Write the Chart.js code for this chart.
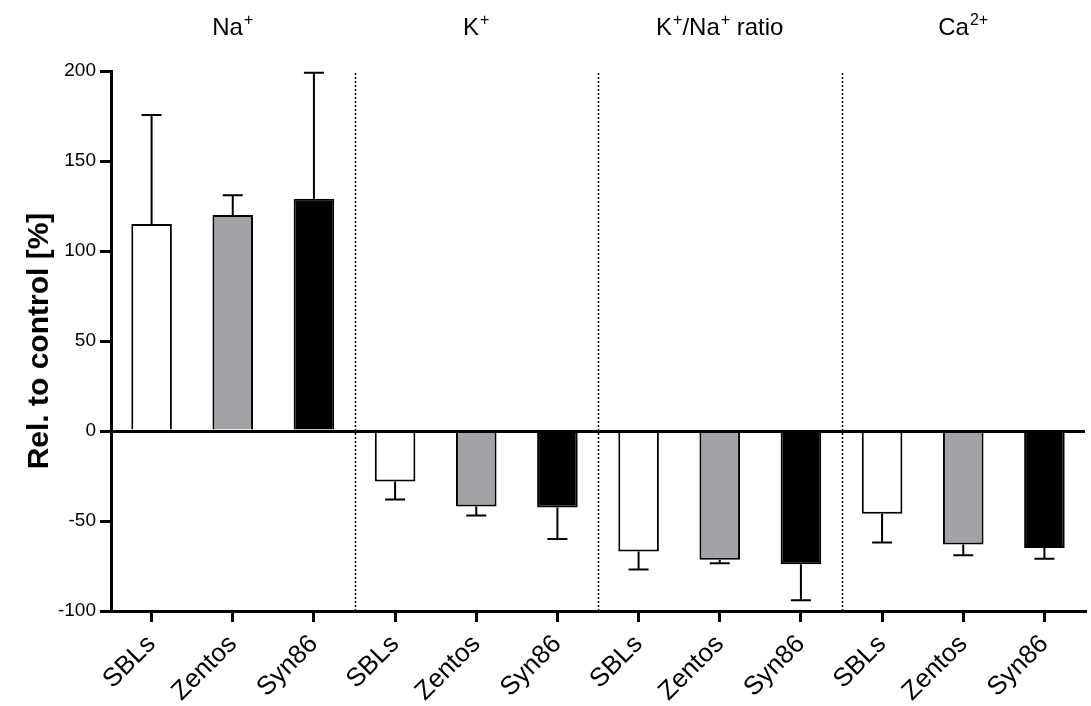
<!DOCTYPE html>
<html>
<head>
<meta charset="utf-8">
<script src="https://cdn.jsdelivr.net/npm/chart.js@4.4.1/dist/chart.umd.min.js"></script>
<style>
  html, body { margin: 0; padding: 0; background: #fff; }
  #wrap { width: 1091px; height: 706px; }
</style>
</head>
<body>
<div id="wrap"><canvas id="ionChart" width="1091" height="706"></canvas></div>
<script>
// ion groups, drawn on top; "sup" parts are superscripts
var groupLabels = [
    [['Na', false], ['+', true]],
    [['K', false], ['+', true]],
    [['K', false], ['+', true], ['/Na', false], ['+', true], [' ratio', false]],
    [['Ca', false], ['2+', true]]
]
var cultivars = ['SBLs', 'Zentos', 'Syn86']
var cultivarColors = ['#ffffff', '#a3a2a7', '#000000']

// means per cultivar, in group order (Na+, K+, K+/Na+, Ca2+)
var sblsMean   = [115, -28, -67, -46]
var zentosMean = [120, -42, -71.5, -63]
var syn86Mean  = [129, -42.5, -74, -65]
// error (SD), drawn only away from zero
var sblsErr    = [60.5, 10, 10, 16]
var zentosErr  = [11, 5, 2, 6]
var syn86Err   = [70, 17.5, 20, 6]

var yTicks = { min: -100, max: 200, step: 50 }

// flatten into one bar per category
var labels = [], values = [], errors = [], colors = []
for (var g = 0; g < groupLabels.length; g++) {
    var m = [sblsMean[g], zentosMean[g], syn86Mean[g]]
    var e = [sblsErr[g], zentosErr[g], syn86Err[g]]
    for (var c = 0; c < cultivars.length; c++) {
        labels.push(cultivars[c])
        values.push(m[c])
        errors.push(e[c])
        colors.push(cultivarColors[c])
    }
}

var extras = {
    id: 'extras',
    afterDatasetsDraw: function(chart) {
        var ctx = chart.ctx
        var xs = chart.scales.x, ys = chart.scales.y
        var area = chart.chartArea
        ctx.save()

        // error bars
        var bars = chart.getDatasetMeta(0).data
        ctx.strokeStyle = '#000'
        ctx.lineWidth = 2
        bars.forEach(function(bar, i) {
            var v = values[i]
            var tip = ys.getPixelForValue(v + (v >= 0 ? errors[i] : -errors[i]))
            var base = ys.getPixelForValue(v)
            ctx.beginPath()
            ctx.moveTo(bar.x, base)
            ctx.lineTo(bar.x, tip)
            ctx.moveTo(bar.x - 10, tip)
            ctx.lineTo(bar.x + 10, tip)
            ctx.stroke()
        })

        // zero line over the bar bases
        var zy = Math.round(ys.getPixelForValue(0)) + 0.5
        ctx.lineWidth = 3
        ctx.beginPath()
        ctx.moveTo(area.left, zy)
        ctx.lineTo(area.right, zy)
        ctx.stroke()

        // dotted group separators
        ctx.lineWidth = 1.5
        ctx.setLineDash([2, 2])
        for (var g = 1; g < groupLabels.length; g++) {
            var sx = Math.round(xs.getPixelForValue(g * 3 - 0.5)) + 0.5
            ctx.beginPath()
            ctx.moveTo(sx, area.top + 2)
            ctx.lineTo(sx, area.bottom)
            ctx.stroke()
        }
        ctx.setLineDash([])

        // group titles with superscripts
        ctx.fillStyle = '#000'
        ctx.textBaseline = 'alphabetic'
        ctx.textAlign = 'left'
        var mainFont = '24px "Liberation Sans", Arial, sans-serif'
        var supFont = '16px "Liberation Sans", Arial, sans-serif'
        groupLabels.forEach(function(parts, g) {
            var w = 0
            parts.forEach(function(p) {
                ctx.font = p[1] ? supFont : mainFont
                w += ctx.measureText(p[0]).width + (p[1] ? 1 : 0)
            })
            var cx = xs.getPixelForValue(g * 3 + 1)
            var x = cx - w / 2
            parts.forEach(function(p) {
                ctx.font = p[1] ? supFont : mainFont
                ctx.fillText(p[0], x + (p[1] ? 1 : 0), p[1] ? 25 : 35)
                x += ctx.measureText(p[0]).width + (p[1] ? 1 : 0)
            })
        })
        ctx.restore()
    }
}

var ionCanvas = document.getElementById('ionChart')

var ionChart = new Chart(ionCanvas, {
    type: 'bar',
    data: {
        labels: labels,
        datasets: [{
            data: values,
            backgroundColor: colors,
            borderColor: '#000',
            borderWidth: 2,
            borderSkipped: 'start',
            barPercentage: 0.5,
            categoryPercentage: 1
        }]
    },
    options: {
        responsive: false,
        animation: false,
        layout: {
            padding: { top: 71, right: 6, bottom: 0, left: 0 }
        },
        scales: {
            x: {
                offset: true,
                afterFit: function(s) { s.height = 95 },
                border: { color: '#000', width: 3 },
                grid: {
                    offset: false,
                    drawOnChartArea: false,
                    tickColor: '#000',
                    tickLength: 11,
                    lineWidth: 3
                },
                ticks: {
                    color: '#000',
                    minRotation: 45,
                    maxRotation: 45,
                    padding: 7,
                    font: { family: '"Liberation Sans", Arial, sans-serif', size: 26 }
                }
            },
            y: {
                min: yTicks.min,
                max: yTicks.max,
                afterFit: function(s) { s.width = 111 },
                border: { color: '#000', width: 3 },
                grid: {
                    drawOnChartArea: false,
                    tickColor: '#000',
                    tickLength: 11,
                    lineWidth: 3
                },
                ticks: {
                    stepSize: yTicks.step,
                    color: '#000',
                    padding: 4,
                    font: { family: '"Liberation Sans", Arial, sans-serif', size: 19 }
                },
                title: {
                    display: true,
                    text: 'Rel. to control [%]',
                    color: '#000',
                    padding: { top: 22, bottom: 0 },
                    font: { family: '"Liberation Sans", Arial, sans-serif', size: 30, weight: 'bold' }
                }
            }
        },
        plugins: {
            legend: { display: false },
            tooltip: { enabled: false }
        }
    },
    plugins: [extras]
});
</script>
</body>
</html>
